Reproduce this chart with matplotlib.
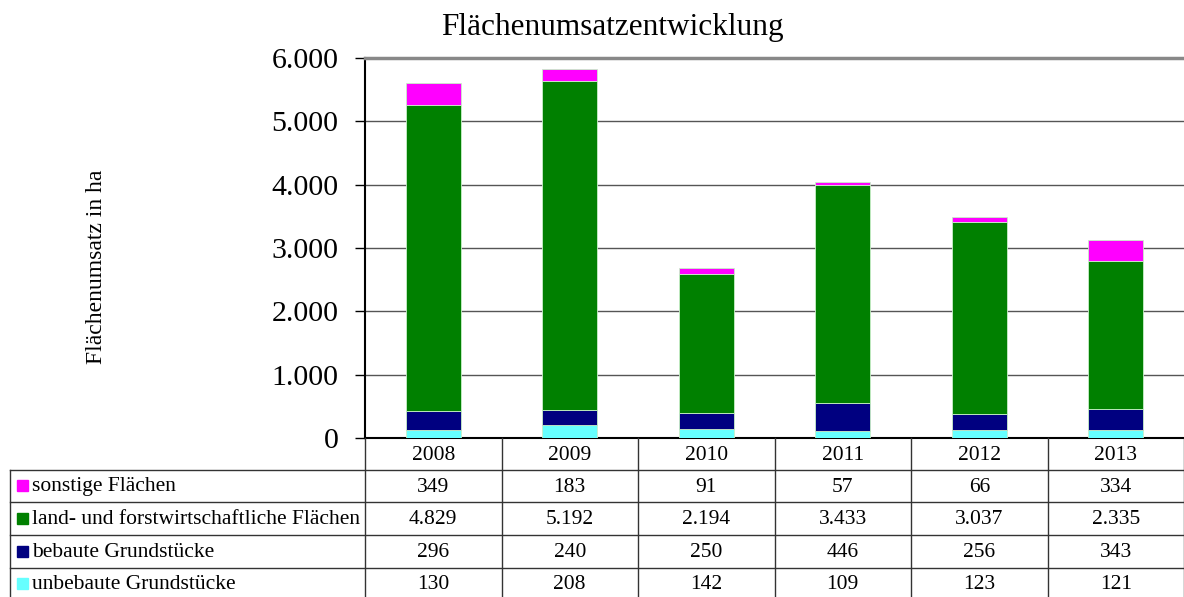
import numpy as np
import matplotlib
matplotlib.use("Agg")
import matplotlib.pyplot as plt
from matplotlib.lines import Line2D
from matplotlib.patches import Rectangle

plt.rcParams["font.family"] = ["Liberation Serif", "DejaVu Serif"]

years = ["2008", "2009", "2010", "2011", "2012", "2013"]
unbebaut = [130, 208, 142, 109, 123, 121]
bebaut = [296, 240, 250, 446, 256, 343]
landforst = [4829, 5192, 2194, 3433, 3037, 2335]
sonstige = [349, 183, 91, 57, 66, 334]

# stacking order bottom -> top
series = [
    ("unbebaute Grundstücke", unbebaut, "#66FFFF"),
    ("bebaute Grundstücke", bebaut, "#000080"),
    ("land- und forstwirtschaftliche Flächen", landforst, "#008000"),
    ("sonstige Flächen", sonstige, "#FF00FF"),
]

W, H = 1184, 597
fig = plt.figure(figsize=(W / 100, H / 100), dpi=100)

x0, x1 = 365, 1184
ytop, ybot = 58, 438
ax = fig.add_axes([x0 / W, (H - ybot) / H, (x1 - x0) / W, (ybot - ytop) / H])

x = np.arange(len(years))
bottom = np.zeros(len(years))
for name, vals, col in series:
    ax.bar(x, vals, width=0.4, bottom=bottom, color=col,
           edgecolor="#c8f0c8", linewidth=0.6, zorder=3)
    bottom += np.array(vals)

ax.set_xlim(-0.5, len(years) - 0.5)
ax.set_ylim(0, 6000)
ax.set_yticks(np.arange(0, 6001, 1000))
ax.set_yticklabels([f"{v:,}".replace(",", ".") for v in range(0, 6001, 1000)],
                   fontsize=21.5)
ax.set_xticks([])
ax.tick_params(axis="y", direction="out", length=7, width=1, pad=12)
ax.grid(axis="y", color="#555555", linewidth=1, zorder=0)
ax.spines["right"].set_visible(False)
ax.spines["top"].set_color("#888888")
ax.spines["top"].set_linewidth(2.5)
ax.spines["left"].set_linewidth(1.5)
ax.spines["bottom"].set_linewidth(1.5)

fig.text(97 / W, 1 - 267 / H, "Flächenumsatz in ha", fontsize=17,
         rotation=90, ha="center", va="center")
fig.text(612 / W, 1 - 27 / H, "Flächenumsatzentwicklung", fontsize=22.5,
         ha="center", va="center")


# data table drawn below the axes
def fx(px):
    return px / W


def fy(py):
    return 1 - py / H


col_edges = [x0 + i * (x1 - x0) / len(years) for i in range(len(years) + 1)]
row_edges = [438, 470, 502, 535, 568, 600]
lab_left = 10
lc = "#333333"
fs = 15.5

for i, cx in enumerate(col_edges):
    fig.add_artist(Line2D([fx(cx), fx(cx)], [fy(row_edges[0]), fy(row_edges[-1])],
                          color=lc, lw=1))
fig.add_artist(Line2D([fx(lab_left), fx(lab_left)], [fy(row_edges[1]), fy(row_edges[-1])],
                      color=lc, lw=1))
for ry in row_edges[1:-1]:
    fig.add_artist(Line2D([fx(lab_left), fx(x1)], [fy(ry), fy(ry)], color=lc, lw=1))

for i, yr in enumerate(years):
    cx = (col_edges[i] + col_edges[i + 1]) / 2
    fig.text(fx(cx), fy((row_edges[0] + row_edges[1]) / 2 + 1), yr, fontsize=fs,
             ha="center", va="center")

table_rows = list(reversed(series))
for r, (name, vals, col) in enumerate(table_rows):
    cy = (row_edges[r + 1] + row_edges[r + 2]) / 2
    if r == len(table_rows) - 1:
        cy = (row_edges[r + 1] + 597) / 2 + 1
    fig.add_artist(Rectangle((fx(17), fy(cy + 5)), 11 / W, 11 / H, color=col,
                             transform=fig.transFigure))
    fig.text(fx(32), fy(cy + 1), name, fontsize=fs, ha="left", va="center")
    for i, v in enumerate(vals):
        cx = (col_edges[i] + col_edges[i + 1]) / 2
        fig.text(fx(cx), fy(cy + 1), f"{v:,}".replace(",", "."), fontsize=fs,
                 ha="center", va="center")

fig.savefig("out.png", dpi=100)
